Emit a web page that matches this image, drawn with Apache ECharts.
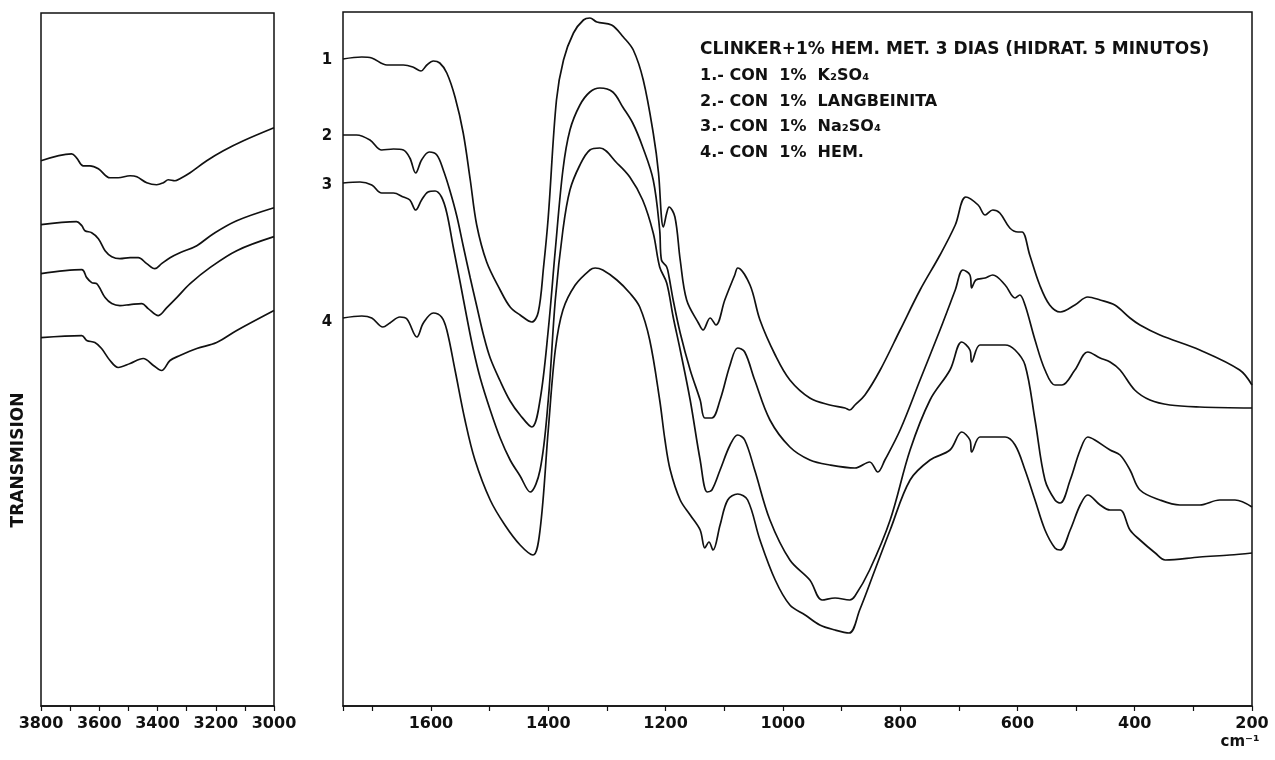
<!DOCTYPE html>
<html>
<head>
<meta charset="utf-8">
<script src="https://cdn.jsdelivr.net/npm/echarts@6/dist/echarts.min.js"></script>
<style>html,body{margin:0;padding:0;background:#fff}#c{width:1275px;height:760px}</style>
</head>
<body>
<div id="c"></div>
<script>
// Wavenumber (cm-1) and transmission (arbitrary units, 0 = bottom of frame)
const curve1 = [[1750,647],[1718,649],[1701,648],[1675,641],[1647,641],[1631,639],[1617,635],[1607,641],[1596,645],[1585,643],[1573,633],[1559,609],[1545,573],[1533,526],[1522,481],[1505,444],[1482,416],[1465,399],[1448,391],[1428,384],[1417,394],[1408,439],[1400,489],[1386,606],[1374,646],[1357,673],[1340,686],[1329,688],[1317,684],[1292,681],[1272,669],[1255,656],[1238,626],[1221,573],[1212,533],[1207,489],[1204,479],[1198,493],[1194,499],[1184,489],[1175,446],[1164,406],[1144,383],[1136,376],[1124,388],[1114,381],[1099,406],[1082,431],[1077,438],[1056,421],[1039,386],[1013,351],[988,326],[954,308],[920,301],[894,298],[886,296],[877,301],[860,311],[834,336],[800,376],[766,416],[732,451],[706,481],[688,509],[667,501],[655,491],[642,496],[630,493],[613,478],[599,474],[592,474],[579,451],[562,421],[545,401],[527,394],[502,401],[480,409],[459,406],[434,401],[408,388],[391,381],[357,371],[289,356],[221,336],[200,321]];
const curve2 = [[1750,571],[1727,571],[1704,566],[1684,556],[1664,557],[1647,556],[1636,548],[1626,533],[1616,546],[1603,554],[1590,551],[1579,536],[1568,516],[1556,490],[1545,460],[1533,428],[1522,400],[1510,370],[1499,348],[1482,325],[1465,305],[1448,291],[1428,279],[1414,306],[1400,376],[1388,456],[1375,536],[1363,576],[1346,601],[1329,614],[1312,618],[1290,614],[1273,599],[1256,583],[1239,559],[1221,526],[1210,476],[1207,446],[1198,439],[1194,429],[1187,406],[1175,373],[1158,336],[1141,306],[1133,288],[1121,288],[1107,306],[1090,341],[1077,358],[1065,354],[1048,326],[1022,286],[988,259],[954,246],[920,241],[877,238],[852,244],[838,234],[826,246],[800,276],[766,326],[732,376],[706,416],[693,436],[681,431],[678,418],[671,426],[655,428],[642,431],[621,421],[604,408],[596,411],[587,401],[570,366],[553,336],[536,321],[524,321],[502,336],[480,354],[459,348],[442,344],[425,336],[400,316],[374,306],[340,301],[289,299],[200,298]];
const curve3 = [[1750,523],[1721,524],[1701,521],[1684,513],[1664,513],[1647,509],[1636,506],[1626,496],[1616,506],[1605,514],[1593,515],[1582,509],[1573,493],[1562,459],[1550,423],[1539,389],[1528,357],[1516,328],[1499,296],[1482,268],[1465,246],[1448,230],[1431,214],[1414,236],[1400,306],[1388,406],[1375,476],[1363,516],[1346,541],[1329,556],[1312,558],[1283,543],[1261,529],[1239,506],[1221,473],[1210,439],[1198,423],[1187,389],[1175,356],[1158,306],[1141,246],[1129,214],[1121,216],[1107,236],[1090,261],[1077,271],[1065,266],[1048,236],[1022,186],[988,146],[954,126],[933,106],[911,108],[886,106],[877,110],[852,136],[817,186],[783,256],[749,306],[715,336],[695,364],[681,356],[678,344],[664,361],[642,361],[621,361],[604,356],[587,341],[570,286],[553,226],[536,206],[527,203],[510,226],[493,256],[480,269],[468,266],[442,256],[425,251],[408,236],[391,216],[357,206],[323,201],[289,201],[255,206],[229,206],[200,199]];
const curve4 = [[1750,388],[1718,390],[1701,388],[1682,379],[1670,383],[1653,389],[1641,387],[1624,369],[1613,383],[1596,393],[1582,389],[1573,376],[1559,336],[1542,286],[1525,246],[1499,206],[1474,181],[1448,161],[1426,151],[1414,176],[1400,276],[1388,356],[1375,396],[1354,421],[1329,436],[1320,438],[1307,436],[1283,426],[1261,413],[1244,399],[1227,366],[1210,306],[1201,266],[1192,236],[1175,206],[1158,191],[1141,176],[1133,158],[1126,164],[1119,156],[1107,181],[1094,206],[1077,212],[1060,206],[1039,166],[1013,126],[988,101],[962,91],[937,81],[911,76],[887,73],[869,96],[843,136],[817,176],[783,226],[749,246],[715,256],[695,274],[681,266],[678,254],[664,269],[642,269],[621,269],[604,261],[587,236],[570,206],[553,176],[536,158],[527,156],[510,176],[493,201],[480,211],[459,201],[442,196],[425,196],[408,176],[391,166],[365,153],[348,146],[289,149],[238,151],[200,153]];
// O-H region (left panel)
const oh1 = [[3800,546],[3695,553],[3678,549],[3655,541],[3632,541],[3603,538],[3563,529],[3535,529],[3494,531],[3471,530],[3437,524],[3403,522],[3380,524],[3363,527],[3340,526],[3323,528],[3288,534],[3231,546],[3174,556],[3105,566],[3000,579]];
const oh2 = [[3800,482],[3678,485],[3660,481],[3649,476],[3626,474],[3603,468],[3580,456],[3557,450],[3529,448],[3494,449],[3466,449],[3437,443],[3409,438],[3386,443],[3357,449],[3323,454],[3265,461],[3208,473],[3128,486],[3000,499]];
const oh3 = [[3800,433],[3660,437],[3643,429],[3626,424],[3609,423],[3580,409],[3557,403],[3529,401],[3494,402],[3454,403],[3432,398],[3397,391],[3368,399],[3334,409],[3288,423],[3220,439],[3128,456],[3000,470]];
const oh4 = [[3800,369],[3660,371],[3643,366],[3615,364],[3592,358],[3563,346],[3535,339],[3494,343],[3449,348],[3414,341],[3386,336],[3357,346],[3323,351],[3265,358],[3197,364],[3128,376],[3000,396]];

const titleText = 'CLINKER+1% HEM. MET. 3 DIAS (HIDRAT. 5 MINUTOS)';
const legendLines = ['1.- CON  1%  K₂SO₄', '2.- CON  1%  LANGBEINITA', '3.- CON  1%  Na₂SO₄', '4.- CON  1%  HEM.'];
const curveNumbers = ['1', '2', '3', '4'];
const yLabel = 'TRANSMISION';
const unitLabel = 'cm⁻¹';

const FONT = 'DejaVu Sans';
const chart = echarts.init(document.getElementById('c'), null, {renderer: 'canvas'});

function lineSeries(data, xi) {
  return {type: 'line', xAxisIndex: xi, yAxisIndex: xi, data: data, smooth: 0.35, showSymbol: false,
    lineStyle: {color: '#111', width: 1.7}, silent: true, animation: false};
}
const axisCommon = {
  type: 'value', interval: 100, inverse: true,
  axisLine: {show: true, lineStyle: {color: '#111', width: 1.5}},
  axisTick: {show: true, length: 5, lineStyle: {color: '#111', width: 1.2}},
  splitLine: {show: false},
  axisLabel: {show: true, margin: 10, color: '#111', fontFamily: FONT, fontWeight: 'bold', fontSize: 16,
    showMinLabel: true, showMaxLabel: true,
    formatter: v => (v % 200 === 0 ? String(v) : '')}
};
const yCommon = {type: 'value', min: 0, max: 694, show: false};

const legendGraphics = legendLines.map((t, i) => ({
  type: 'text', left: 700, top: 68 + i * 25.5,
  style: {text: t, fill: '#111', font: 'bold 16px "' + FONT + '"'}
}));
const numberY = [60, 136, 185, 322];
const numberGraphics = curveNumbers.map((t, i) => ({
  type: 'text', x: 327, y: numberY[i],
  style: {text: t, fill: '#111', font: 'bold 15px "' + FONT + '"', textAlign: 'center', textVerticalAlign: 'middle'}
}));

chart.setOption({
  backgroundColor: '#fff',
  animation: false,
  grid: [
    {left: 41, right: 1001, top: 13, bottom: 54, show: true, borderColor: '#111', borderWidth: 1.5},
    {left: 343, right: 23, top: 12, bottom: 54, show: true, borderColor: '#111', borderWidth: 1.5}
  ],
  xAxis: [
    Object.assign({}, axisCommon, {gridIndex: 0, min: 3000, max: 3800}),
    Object.assign({}, axisCommon, {gridIndex: 1, min: 200, max: 1750})
  ],
  yAxis: [Object.assign({gridIndex: 0}, yCommon), Object.assign({gridIndex: 1}, yCommon)],
  series: [
    lineSeries(oh1, 0), lineSeries(oh2, 0), lineSeries(oh3, 0), lineSeries(oh4, 0),
    lineSeries(curve1, 1), lineSeries(curve2, 1), lineSeries(curve3, 1), lineSeries(curve4, 1)
  ],
  graphic: [
    {type: 'text', x: 19, y: 460, rotation: Math.PI / 2,
      style: {text: yLabel, fill: '#111', font: 'bold 17px "' + FONT + '"', textAlign: 'center', textVerticalAlign: 'middle'}},
    {type: 'text', left: 700, top: 41, style: {text: titleText, fill: '#111', font: 'bold 17px "' + FONT + '"'}},
    {type: 'text', x: 1240, y: 742, style: {text: unitLabel, fill: '#111', font: 'bold 15px "' + FONT + '"', textAlign: 'center', textVerticalAlign: 'middle'}}
  ].concat(legendGraphics, numberGraphics)
});
</script>
</body>
</html>
